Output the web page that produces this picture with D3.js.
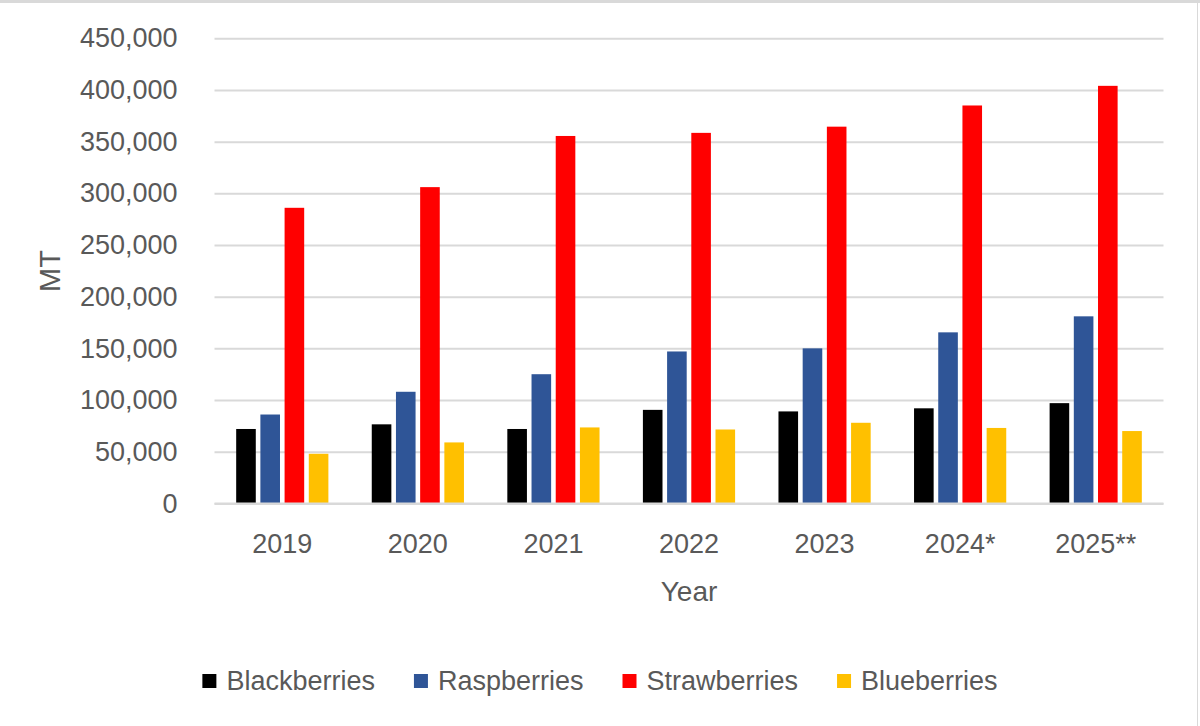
<!DOCTYPE html>
<html>
<head>
<meta charset="utf-8">
<script src="https://cdn.jsdelivr.net/npm/d3@7"></script>
<style>
  html, body { margin: 0; padding: 0; background: #fff; }
  svg { display: block; font-family: "Liberation Sans", Arial, sans-serif; }
</style>
</head>
<body>
<svg id="chart" width="1200" height="726"></svg>
<script>
// values (metric tonnes)
var years = ['2019', '2020', '2021', '2022', '2023', '2024*', '2025**'];
var seriesNames = ['Blackberries', 'Raspberries', 'Strawberries', 'Blueberries'];
var seriesColors = ['#000000', '#2F5597', '#FF0000', '#FFC000'];
var blackberries = [72000, 76500, 72000, 90500, 89000, 92000, 97000];
var raspberries = [86000, 108000, 125000, 147000, 150000, 165500, 181000];
var strawberries = [286000, 306000, 355500, 358500, 364500, 385000, 404000];
var blueberries = [48000, 59000, 73500, 71500, 78000, 73000, 70000];
var yTicks = [0, 50000, 100000, 150000, 200000, 250000, 300000, 350000, 400000, 450000];

var seriesValues = [blackberries, raspberries, strawberries, blueberries];

var svg = d3.select('#chart');
var textColor = '#595959';
var gridColor = '#d9d9d9';

var plotLeft = 214.5, plotRight = 1163.5, plotTop = 38.3, plotBottom = 503.4;

// frame bits visible in the picture
svg.append('rect').attr('x', 0).attr('y', 0).attr('width', 1200).attr('height', 3).attr('fill', gridColor);
svg.append('rect').attr('x', 1197).attr('y', 0).attr('width', 1).attr('height', 726).attr('fill', gridColor);

var y = d3.scaleLinear().domain([0, 450000]).range([plotBottom, plotTop]);

var x0 = d3.scaleBand().domain(years).range([plotLeft, plotRight]).padding(0);
var groupWidth = 96.8;
var x1 = d3.scaleBand().domain(seriesNames).range([0, groupWidth])
  .paddingInner(0.19).paddingOuter(0.095);

// y axis with gridlines
var yAxis = svg.append('g')
  .attr('transform', 'translate(' + plotLeft + ',0)')
  .call(d3.axisLeft(y).tickValues(yTicks).tickFormat(d3.format(','))
    .tickSizeInner(-(plotRight - plotLeft)).tickSizeOuter(0).tickPadding(37));
yAxis.select('.domain').remove();
yAxis.selectAll('line').attr('stroke', gridColor).attr('stroke-width', 2);
yAxis.selectAll('text').attr('fill', textColor).style('font-size', '27px');

// bars
var rows = years.map(function(year, i) {
  return seriesNames.map(function(name, j) {
    return {year: year, name: name, value: seriesValues[j][i], color: seriesColors[j]};
  });
});

svg.append('g').selectAll('g')
  .data(rows)
  .enter()
  .append('g')
  .attr('transform', function(d) {
    return 'translate(' + (x0(d[0].year) + (x0.bandwidth() - groupWidth) / 2) + ',0)';
  })
  .selectAll('rect')
  .data(function(d) { return d; })
  .enter()
  .append('rect')
  .attr('x', function(d) { return x1(d.name); })
  .attr('y', function(d) { return y(d.value); })
  .attr('width', x1.bandwidth())
  .attr('height', function(d) { return plotBottom - y(d.value); })
  .attr('fill', function(d) { return d.color; });

// x axis
var xAxis = svg.append('g')
  .attr('transform', 'translate(0,' + plotBottom + ')')
  .call(d3.axisBottom(x0).tickSize(0).tickPadding(30));
xAxis.select('.domain').remove();
xAxis.selectAll('text').attr('fill', textColor).style('font-size', '27px');

svg.append('line')
  .attr('x1', plotLeft).attr('x2', plotRight)
  .attr('y1', plotBottom).attr('y2', plotBottom)
  .attr('stroke', gridColor).attr('stroke-width', 2);

// axis titles
svg.append('text')
  .attr('x', (plotLeft + plotRight) / 2)
  .attr('y', 601)
  .attr('text-anchor', 'middle')
  .attr('fill', textColor)
  .style('font-size', '28px')
  .text('Year');

svg.append('text')
  .attr('transform', 'translate(60,271) rotate(-90)')
  .attr('text-anchor', 'middle')
  .attr('fill', textColor)
  .style('font-size', '29px')
  .text('MT');

// legend
var legend = svg.append('g');
var items = legend.selectAll('g')
  .data(seriesNames)
  .enter()
  .append('g');

items.append('rect')
  .attr('width', 14).attr('height', 14)
  .attr('y', 674)
  .attr('fill', function(d, i) { return seriesColors[i]; });

items.append('text')
  .attr('x', 24)
  .attr('y', 690)
  .attr('fill', textColor)
  .style('font-size', '27px')
  .text(function(d) { return d; });

var atX = 0;
var gap = 39;
items.each(function() {
  var g = d3.select(this);
  var w = 24 + g.select('text').node().getComputedTextLength();
  g.attr('transform', 'translate(' + atX + ',0)');
  atX += w + gap;
});
var total = atX - gap;
legend.attr('transform', 'translate(' + (600 - total / 2) + ',0)');
</script>
</body>
</html>
